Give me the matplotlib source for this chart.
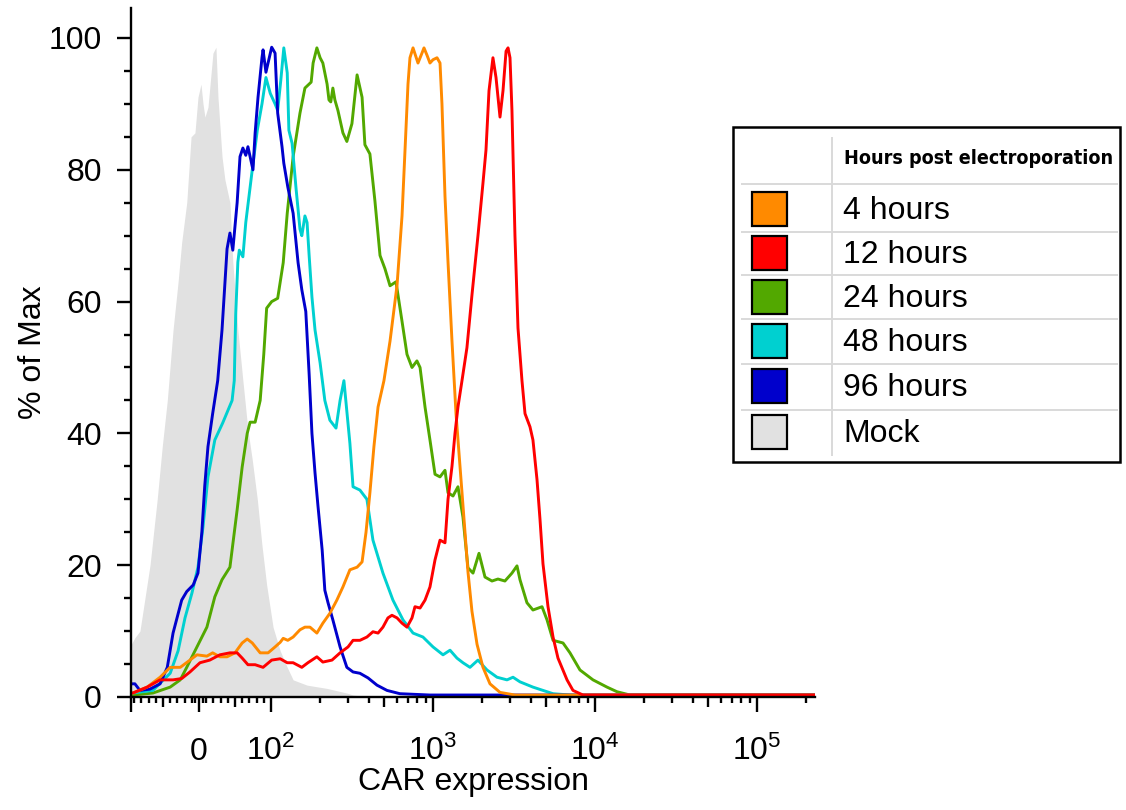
import matplotlib
matplotlib.use("Agg")
import matplotlib.pyplot as plt
from matplotlib import font_manager as fm
from matplotlib.patches import Rectangle
from matplotlib.lines import Line2D

plt.rcParams['font.family'] = ['Liberation Sans', 'DejaVu Sans']
plt.rcParams['mathtext.fontset'] = 'custom'
plt.rcParams['mathtext.rm'] = 'Liberation Sans'
plt.rcParams['mathtext.it'] = 'Liberation Sans:italic'
plt.rcParams['mathtext.bf'] = 'Liberation Sans:bold'

# ---------------- data ----------------
X_MIN, X_MAX = -94.4, 228000

mock_x = [-94, -89, -82, -68, -58, -51, -44, -36, -29, -24, -17, -11, -5.6, -1.4, 2.8, 5.6, 8.3,
          12.5, 19.4, 23.6, 26.4, 32, 36, 43, 47, 54, 61, 68, 74, 81, 87.5, 94, 103, 114, 126,
          137, 167, 222, 294, 321, 408]
mock_y = [8, 9, 10, 20, 30, 38, 45, 55.7, 63, 69, 75, 85, 85.6, 91, 93, 90, 88,
          89.5, 97.7, 98.6, 91, 82, 78.5, 75, 66, 55.7, 48, 40.5, 36, 30, 23, 17, 10.6, 7, 4.5,
          2.6, 1.8, 1.3, 0.6, 0.3, 0]

h96_x = [-94, -89, -82, -68, -54, -44, -36, -24, -17, -8, -1.4, 4, 8, 12.5, 19, 26, 32, 39, 43,
         47, 53, 57, 61, 65, 68, 75, 78, 82, 87.5, 89, 93, 97, 101, 106, 110, 117, 120, 127, 137,
         147, 155, 164, 172, 179, 187, 195, 207, 215, 225, 241, 267, 294, 321, 354, 397, 451,
         520, 625, 958, 228000]
h96_y = [2.0, 2.0, 1.0, 1.2, 2.0, 4.5, 9.7, 14.7, 16, 17, 18.8, 25, 32, 38, 43, 48, 55.7, 68, 70.4,
         67.8, 75, 82, 83.3, 82.2, 83.5, 80, 85.6, 91, 97, 98.2, 94.8, 96.7, 98.6, 97.7, 88.6, 83.5,
         81, 77.4, 73.4, 65.9, 61.8, 58.5, 49, 40, 34, 29, 22.3, 16.2, 14.3, 11.7, 7.6, 4.5, 3.8,
         3.6, 2.9, 1.8, 1.0, 0.5, 0.3, 0.3]

h48_x = [-92, -64, -40, -29, -19.4, -9.7, -1.4, 5.6, 12.5, 22, 33, 46, 49, 51, 54, 56, 61, 65, 74,
         81, 87.5, 93, 99, 106, 110, 115, 120, 126, 129, 135, 143, 151, 155, 162, 167, 172, 179,
         187, 201, 215, 231, 252, 267, 282, 307, 321, 354, 391, 426, 491, 566, 653, 753, 867,
         1000, 1153, 1274, 1406, 1531, 1692, 1895, 2154, 2484, 2863, 3118, 3443, 4140, 5057,
         5508, 7007, 228000]
h48_y = [0.6, 1.0, 3.6, 7, 12, 15.8, 19.7, 25.8, 33.4, 39, 41.6, 45, 48, 58, 66, 67.8, 66.8, 72, 80,
         86, 90, 94, 91.6, 90, 89, 93.6, 98.5, 94.7, 86, 84, 77, 71, 70, 73, 72, 67, 60.7,
         55.7, 50.7, 45, 42, 40.8, 45, 48, 38.5, 31.9, 31.4, 30, 23.8, 18.8, 14.7, 11.7, 9.7, 9.1,
         7.6, 6.4, 7.1, 5.9, 5.2, 4.5, 5.6, 4.1, 3.0, 2.6, 3.0, 2.3, 1.5, 0.8,
         0.5, 0.3, 0.3]

h24_x = [-92, -64, -40, -26, -17, -2.8, 11, 22, 32, 43, 53, 60, 67, 71, 78, 85, 90, 94, 101, 110,
         119, 126, 137, 151, 162, 177, 182, 192, 201, 209, 222, 228, 234, 241, 248, 259, 278, 294,
         316, 340, 365, 380, 408, 438, 471, 505, 543, 591, 644, 691, 742, 796, 832, 893, 958,
         1029, 1105, 1186, 1238, 1329, 1426, 1531, 1644, 1766, 1923, 2094, 2313, 2518, 2780,
         3072, 3300, 3443, 3802, 4140, 4710, 5057, 5508, 6345, 7007, 8076, 9720, 11860, 13670,
         16450, 228000]
h24_y = [0.3, 0.6, 1.5, 2.6, 4.5, 7.6, 10.6, 15.2, 17.8, 19.7, 28.4, 34.9, 40, 41.7, 41.7, 45, 52,
         59, 60, 60.5, 65.9, 73.4, 82, 88.6, 92.4, 93.3, 96.2, 98.5, 97, 96.2, 93, 90.6, 90.3, 92.4,
         90.6, 89, 85.6, 84.3, 87, 94.4, 91, 83.8, 82.4, 75.3, 67, 65, 62.4, 63, 57, 52, 50, 51, 50,
         44, 39, 33.8, 33.4, 34.4, 31, 30.5, 31.9, 27.3, 19.6, 18.8, 21.8, 18.2, 17.6, 17.9, 17.6,
         18.8, 19.9, 17.8, 14.3, 13.2, 13.7, 11.7, 8.6, 8.2, 6.7, 4.1, 2.6, 1.5, 0.8,
         0.3, 0.3]

h4_x = [-92, -72, -54, -40, -26, -12.5, -2.8, 11, 19, 29, 39, 50, 60, 67, 74, 85, 96, 106, 114,
        119, 127, 137, 151, 162, 174, 192, 209, 231, 255, 278, 307, 340, 365, 386, 408, 432, 458,
        498, 543, 600, 644, 672, 701, 721, 753, 808, 855, 880, 918, 958, 1000, 1059, 1105, 1136,
        1186, 1238, 1310, 1387, 1468, 1554, 1644, 1740, 1870, 2035, 2248, 2592, 3206, 228000]
h4_y = [0.6, 1.5, 3.0, 4.5, 4.5, 5.6, 6.4, 6.2, 6.7, 6.1, 6.1, 6.7, 8.2, 8.8, 8.2, 6.7, 6.7, 7.6,
        8.3, 8.9, 8.6, 9.1, 10.2, 10.6, 10.6, 9.7, 11.2, 12.7, 14.7, 16.7, 19.3, 19.7, 20.5, 25,
        31, 38, 44, 48, 54, 62.5, 73, 83, 93, 97, 98.5, 96.2, 97.7, 98.5, 97.4, 96.2, 96.7, 97,
        96.2, 90, 76, 66, 54, 43, 35, 27, 19, 13, 8, 4.5, 2.0, 0.7, 0.3, 0.3]

h12_x = [-92, -72, -54, -36, -24, -12.5, 1.4, 15, 29, 43, 53, 60, 68, 78, 89, 101, 114, 126, 137,
         155, 169, 192, 209, 238, 267, 299, 321, 354, 391, 426, 458, 491, 527, 558, 600, 644, 691,
         742, 774, 832, 893, 958, 1029, 1105, 1186, 1238, 1310, 1367, 1426, 1510, 1620, 1740,
         1895, 2035, 2124, 2217, 2345, 2449, 2592, 2705, 2825, 2905, 2988, 3072, 3206, 3347,
         3542, 3698, 3969, 4140, 4385, 4575, 4775, 5128, 5508, 5909, 6720, 7313, 8430, 228000]
h12_y = [0.6, 1.5, 2.6, 2.6, 2.8, 3.8, 5.2, 5.6, 6.4, 6.7, 6.7, 5.9, 4.9, 4.9, 4.5, 5.6, 5.8, 5.2,
         5.2, 4.5, 5.2, 6.1, 5.3, 5.6, 6.7, 7.6, 8.6, 8.6, 9.1, 9.9, 9.7, 10.6, 12, 12.4, 12, 11.2,
         10.6, 12, 13.7, 13.5, 14.7, 16.7, 20.8, 23.8, 23.4, 30, 35, 40, 44, 48, 53, 61,
         70, 78, 83, 92, 97, 94, 88, 92, 98, 98.5, 97, 89, 70, 56,
         48, 43, 41, 39, 33, 27, 20.2, 13.7, 9.1, 5.9, 2.6, 1.0, 0.3, 0.3]

legend_title = 'Hours post electroporation'
legend_labels = ['4 hours', '12 hours', '24 hours', '48 hours', '96 hours', 'Mock']
series_colors = ['#ff8a00', '#ff0000', '#52a800', '#00d0d0', '#0000cc', '#e1e1e1']

x_major_ticks = [X_MIN, 0, 1e2, 1e3, 1e4, 1e5]
x_major_labels = ['', '0', r'$10^2$', r'$10^3$', r'$10^4$', r'$10^5$']
x_mid_ticks = [-50, 50, 500, 5000, 50000]
x_minor_ticks = ([-90, -80, -70, -60, -40, -30, -20, -10, -5, 5, 10, 20, 30, 40, 60, 70, 80, 90]
                 + [200, 300, 400, 600, 700, 800, 900]
                 + [2000, 3000, 4000, 6000, 7000, 8000, 9000]
                 + [20000, 30000, 40000, 60000, 70000, 80000, 90000, 200000])
y_major_ticks = [0, 20, 40, 60, 80, 100]
y_minor_ticks = [5, 10, 15, 25, 30, 35, 45, 50, 55, 65, 70, 75, 85, 90, 95]

FS = 23

# ---------------- figure ----------------
W, H = 1126, 810
fig = plt.figure(figsize=(W / 100, H / 100), dpi=100)
ax = fig.add_axes([131 / W, 1 - 697 / H, 684 / W, 689 / H])
ax.set_xscale('symlog', linthresh=100, linscale=0.4)
ax.set_xlim(X_MIN, X_MAX)
ax.set_ylim(0, 104.55)

ax.fill_between(mock_x, mock_y, 0, color=series_colors[5], lw=0, zorder=1)
order = [(h24_x, h24_y, series_colors[2]),
         (h48_x, h48_y, series_colors[3]),
         (h96_x, h96_y, series_colors[4]),
         (h4_x, h4_y, series_colors[0]),
         (h12_x, h12_y, series_colors[1])]
for xs, ys, c in order:
    ax.plot(xs, ys, color=c, lw=2.1, solid_joinstyle='round', solid_capstyle='round', zorder=2)

for s in ['top', 'right']:
    ax.spines[s].set_visible(False)
for s in ['left', 'bottom']:
    ax.spines[s].set_linewidth(1.7)
    ax.spines[s].set_zorder(3)

ax.set_xticks(x_major_ticks, x_major_labels)
ax.set_xticks(x_minor_ticks, minor=True)
ax.tick_params(axis='x', which='major', length=11, width=1.7, pad=34, labelsize=FS)
ax.tick_params(axis='x', which='minor', length=4, width=1.7)
for lab in ax.get_xticklabels():
    lab.set_va('baseline')

ax.set_yticks(y_major_ticks)
ax.set_yticks(y_minor_ticks, minor=True)
ax.tick_params(axis='y', which='major', length=10, width=1.7, pad=11, labelsize=FS)
ax.tick_params(axis='y', which='minor', length=5, width=1.7)

ax2 = ax.twiny()
ax2.set_xscale('symlog', linthresh=100, linscale=0.4)
ax2.set_xlim(X_MIN, X_MAX)
ax2.xaxis.set_ticks_position('bottom')
ax2.set_xticks(x_mid_ticks, [''] * len(x_mid_ticks))
ax2.set_xticks([], minor=True)
ax2.tick_params(axis='x', which='major', length=7, width=1.7)
for s in ax2.spines.values():
    s.set_visible(False)

ax.set_xlabel('CAR expression', fontsize=FS)
ax.xaxis.set_label_coords(0.5, -0.101)
ax.set_ylabel('% of Max', fontsize=FS)
ax.yaxis.set_label_coords(-0.121, 0.5)

# ---------------- legend table ----------------
def fx(px):
    return px / W

def fy(py):
    return 1 - py / H

def find_condensed_bold():
    cands = []
    for f in fm.fontManager.ttflist:
        name = f.name
        fname = f.fname.lower()
        narrow = ('narrow' in name.lower() or 'condensed' in name.lower()
                  or 'condensed' in fname or 'narrow' in fname
                  or str(f.stretch) in ('condensed', 'semi-condensed', 'extra-condensed'))
        bold = (f.weight in ('bold', 700, 'heavy', 'semibold', 600)
                or 'bold' in fname)
        if narrow and bold:
            cands.append(f)
    pref = ['liberation', 'arimo', 'dejavu', 'roboto', 'noto', 'open']
    for p in pref:
        for f in cands:
            if p in f.fname.lower():
                return f.fname
    return cands[0].fname if cands else None

head_file = find_condensed_bold()
if head_file and ('liberation' in head_file.lower() or 'narrow' in head_file.lower()):
    head_props = fm.FontProperties(fname=head_file, size=18.5)
elif head_file:
    head_props = fm.FontProperties(fname=head_file, size=17.5)
else:
    head_props = fm.FontProperties(family=['Liberation Sans'], weight='bold', size=15.2)

fig.add_artist(Rectangle((fx(733), fy(462)), fx(1120) - fx(733), fy(127) - fy(462),
                         transform=fig.transFigure, fill=False, ec='black', lw=1.8, zorder=5))
for yy in [184, 232, 275, 319, 364, 410]:
    fig.add_artist(Line2D([fx(742), fx(1117)], [fy(yy), fy(yy)], transform=fig.transFigure,
                          color='#d9d9d9', lw=1.4))
fig.add_artist(Line2D([fx(832), fx(832)], [fy(138), fy(455)], transform=fig.transFigure,
                      color='#d9d9d9', lw=1.4))
head = fig.text(fx(844), fy(158), legend_title, fontproperties=head_props,
                va='center', ha='left')
row_centers = [209, 253, 297, 341, 386, 432]
for lab, col, yc in zip(legend_labels, series_colors, row_centers):
    fig.add_artist(Rectangle((fx(752), fy(yc + 17)), fx(787) - fx(752), fy(yc - 17) - fy(yc + 17),
                             transform=fig.transFigure, fc=col, ec='black', lw=1.6))
    fig.text(fx(843), fy(yc + 2), lab, fontsize=FS, va='center', ha='left')

# keep the header inside the table box if the chosen face is wider than expected
fig.canvas.draw()
bb = head.get_window_extent()
avail = 1113 - 844
if bb.width > avail:
    head.set_fontsize(head.get_fontsize() * avail / bb.width)

fig.savefig('out.png', dpi=100)
